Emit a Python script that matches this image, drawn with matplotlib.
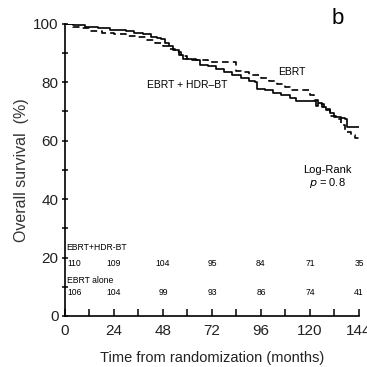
import matplotlib
matplotlib.use("Agg")
import matplotlib.pyplot as plt
from matplotlib.ticker import MultipleLocator

plt.rcParams['font.family'] = ['Liberation Sans', 'DejaVu Sans']

# Kaplan-Meier estimates (months, % surviving)
t_combo = [0, 4, 10, 16, 22, 26, 30, 34, 38, 42, 45, 47, 49, 51, 53, 56, 58, 62, 66, 70,
           74, 78, 82, 86, 90, 93, 94, 98, 102, 106, 110, 113, 118, 121, 123, 124, 126,
           128, 130, 132, 135, 137, 138, 144]
s_combo = [100, 99.5, 99, 98.5, 98, 98, 97.5, 97, 96.5, 95.5, 95, 94.8, 93.5, 92.5, 91,
           89.5, 88, 87.5, 86, 85.5, 84.5, 83.5, 82.5, 81.5, 80.5, 80, 77.6, 77.5, 76.5,
           75.5, 74.5, 73.5, 73.5, 73.5, 72.0, 73, 71.7, 70.5, 69.5, 68, 67.7, 67.5, 64.6, 64.6]

t_ebrt = [0, 4, 8, 12, 18, 24, 30, 36, 40, 44, 48, 51, 54, 57, 60, 64, 70, 74, 84, 86, 90,
          96, 100, 104, 108, 110, 120, 122, 124, 127, 130, 133, 135, 137, 140, 142, 144]
s_ebrt = [100, 99, 98.5, 97.5, 97, 96.5, 96, 95.5, 94.5, 93.5, 92.5, 91.5, 90.5, 89, 88,
          87.5, 87, 87, 84, 83.5, 82.5, 81.5, 80.5, 79.5, 78.5, 77.4, 75.5, 74, 72.5, 71,
          68.5, 67.5, 65.5, 63, 62, 61, 60.3]

# Numbers at risk
risk_months = [0, 24, 48, 72, 96, 120, 144]
risk_combo = [110, 109, 104, 95, 84, 71, 35]
risk_ebrt = [106, 104, 99, 93, 86, 74, 41]

fig = plt.figure(figsize=(3.67, 3.67), dpi=100)
ax = fig.add_axes([0.177, 0.139, 0.801, 0.796])

ax.plot(t_combo, s_combo, drawstyle='steps-post', color='black', lw=1.2)
ax.plot(t_ebrt, s_ebrt, drawstyle='steps-post', color='black', lw=1.2,
        linestyle=(0, (4, 2.5)))

ax.set_xlim(0, 144)
ax.set_ylim(0, 100)
ax.xaxis.set_major_locator(MultipleLocator(24))
ax.xaxis.set_minor_locator(MultipleLocator(12))
ax.yaxis.set_major_locator(MultipleLocator(20))
ax.yaxis.set_minor_locator(MultipleLocator(10))
for s in ('top', 'right'):
    ax.spines[s].set_visible(False)
for s in ('left', 'bottom'):
    ax.spines[s].set_linewidth(1.2)
ax.tick_params(axis='x', which='both', direction='in', length=5, width=1.1,
               labelsize=11, pad=6, colors='black')
ax.tick_params(axis='y', which='both', direction='inout', length=5, width=1.1,
               labelsize=11, pad=2, colors='black')
for lbl in ax.get_xticklabels() + ax.get_yticklabels():
    lbl.set_color('#222222')
ax.set_xlabel('Time from randomization (months)', fontsize=10.5, labelpad=9,
              color='#222222')
ax.set_ylabel('Overall survival  (%)', fontsize=11.5, labelpad=3, color='#333333')

ax.text(59.8, 79.1, 'EBRT + HDR\u2013BT', fontsize=7.5, ha='center', va='center')
ax.text(111, 83.6, 'EBRT', fontsize=7.5, ha='center', va='center')
ax.text(128.4, 50, 'Log-Rank', fontsize=8, ha='center', va='center')
ax.text(128.4, 45.5, r'$\it{p}$ = 0.8', fontsize=8, ha='center', va='center')
ax.text(133.5, 102, 'b', fontsize=16, ha='center', va='center', clip_on=False)

ax.text(0.8, 23.3, 'EBRT+HDR-BT', fontsize=6.2, ha='left', va='center')
ax.text(0.8, 12.0, 'EBRT alone', fontsize=6.2, ha='left', va='center')
for i, (m, a, b) in enumerate(zip(risk_months, risk_combo, risk_ebrt)):
    x = 1.2 if i == 0 else m
    ha = 'left' if i == 0 else 'center'
    ax.text(x, 17.8, str(a), fontsize=6.2, ha=ha, va='center')
    ax.text(x, 7.9, str(b), fontsize=6.2, ha=ha, va='center')

fig.savefig('out.png', dpi=100)
